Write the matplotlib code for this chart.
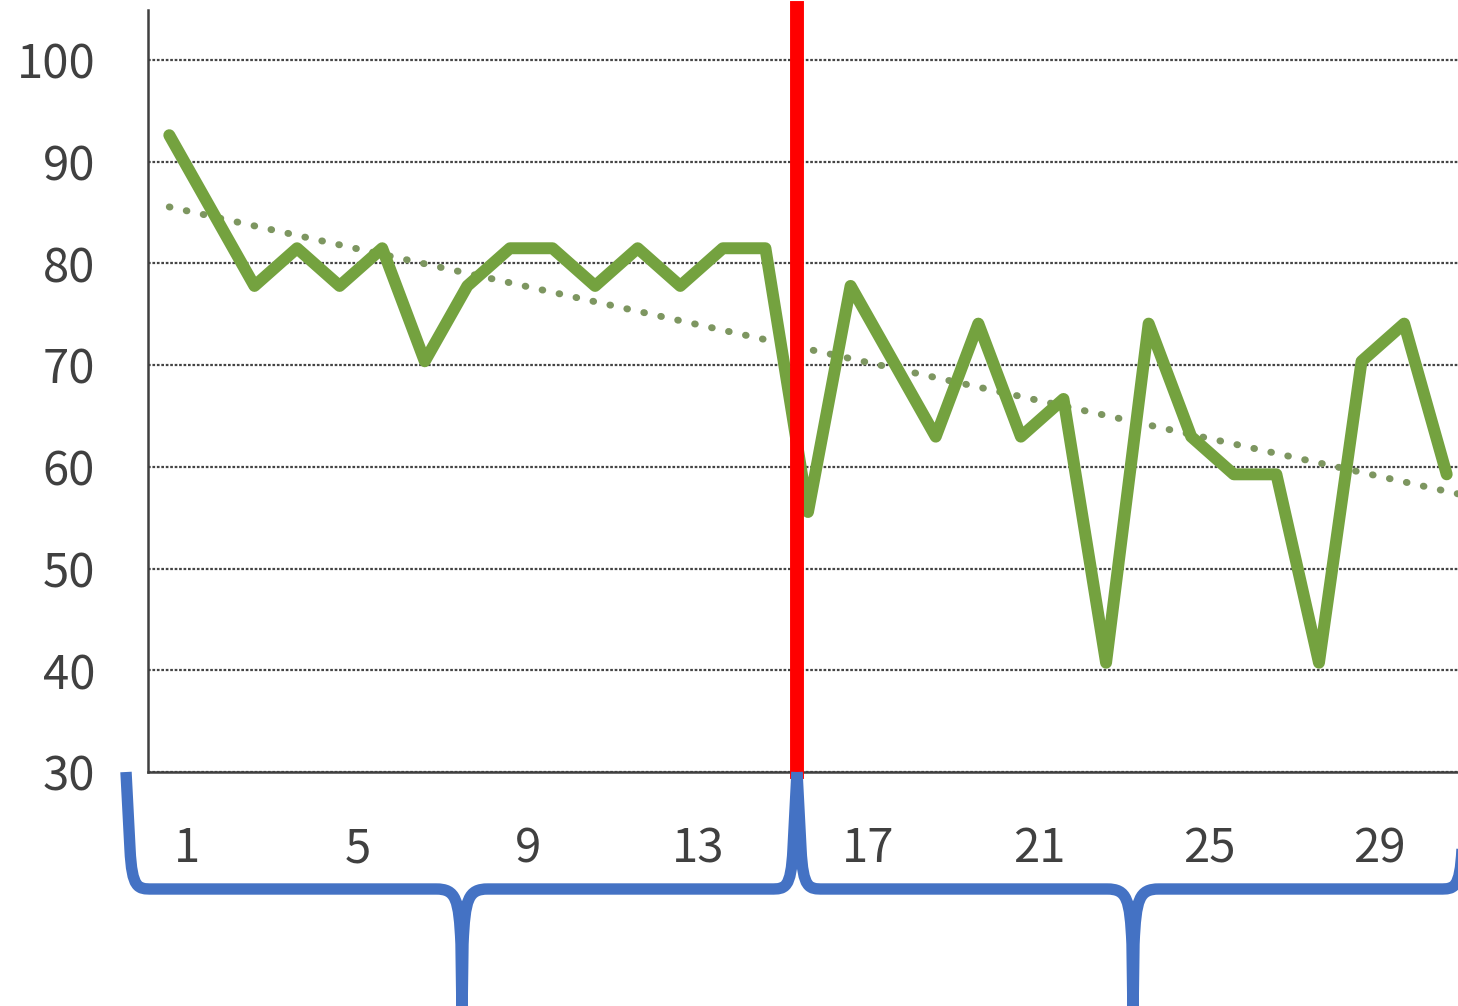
import numpy as np
import matplotlib
matplotlib.use("Agg")
import matplotlib.pyplot as plt
from matplotlib.path import Path
from matplotlib.patches import PathPatch
import matplotlib.transforms as mtransforms

plt.rcParams['font.family'] = ['Noto Sans CJK SC', 'DejaVu Sans']

# scores (out of 27 questions, as percent)
days = np.arange(1, 32)
correct = [25, 23, 21, 22, 21, 22, 19, 21, 22, 22, 21, 22, 21, 22, 22,
           15, 21, 19, 17, 20, 17, 18, 11, 20, 17, 16, 16, 11, 19, 20, 16]
scores = np.array(correct) / 27 * 100
xticks = [1, 5, 9, 13, 17, 21, 25, 29]
yticks = [30, 40, 50, 60, 70, 80, 90, 100]
split_x = 15.74

W, H = 1458, 1006
fig = plt.figure(figsize=(W / 100, H / 100), dpi=100)
ax = fig.add_axes([148 / W, (H - 772) / H, (1468 - 148) / W, (772 - 10) / H])

# trend line
k, b = np.polyfit(days, scores, 1)
tx = np.array([days[0], days[-1] + 0.5])
ax.plot(tx, k * tx + b, color='#7d9660', lw=5, linestyle=(0, (0.1, 2.4)),
        dash_capstyle='round', zorder=2)

ax.plot(days, scores, color='#74a23f', lw=8.6, solid_joinstyle='round',
        solid_capstyle='round', zorder=3)

ax.axvline(split_x, color='#ff0000', lw=10, zorder=4, ymax=1.003, clip_on=False)

ax.set_xlim(0.5, 31.5)
ax.set_ylim(30, 104.9)
ax.set_yticks(yticks)
ax.set_xticks(xticks)
ax.yaxis.grid(True, color='#444444', lw=1.6, linestyle=(0, (1.2, 0.8)))
ax.set_axisbelow(True)
for s in ['top', 'right']:
    ax.spines[s].set_visible(False)
for s in ['left', 'bottom']:
    ax.spines[s].set_color('#404040')
    ax.spines[s].set_linewidth(1.8)
ax.tick_params(axis='both', length=0, labelsize=34, labelcolor='#404040')
ax.tick_params(axis='y', pad=38)
ax.tick_params(axis='x', pad=38)
off = mtransforms.ScaledTranslation(18 / 100, 0, fig.dpi_scale_trans)
for lab in ax.get_xticklabels():
    lab.set_transform(lab.get_transform() + off)

# braces, in pixel coords of the picture
ov = fig.add_axes([0, 0, 1, 1], zorder=10)
ov.set_xlim(0, W)
ov.set_ylim(H, 0)
ov.axis('off')
ov.patch.set_alpha(0)


def brace(x0, xm, x1, ytop, ybar, ybot):
    v = [(x0, ytop), (x0 + 4, ybar - 40),
         (x0 + 6, ybar), (x0 + 12, ybar), (x0 + 26, ybar),
         (xm - 26, ybar),
         (xm - 6, ybar), (xm - 3, ybar + 10), (xm - 1, ybar + 55),
         (xm, ybot),
         (xm + 1, ybar + 55),
         (xm + 3, ybar + 10), (xm + 6, ybar), (xm + 26, ybar),
         (x1 - 26, ybar),
         (x1 - 12, ybar), (x1 - 6, ybar), (x1 - 4, ybar - 40),
         (x1, ytop)]
    c = [Path.MOVETO, Path.LINETO,
         Path.CURVE4, Path.CURVE4, Path.CURVE4,
         Path.LINETO,
         Path.CURVE4, Path.CURVE4, Path.CURVE4,
         Path.LINETO,
         Path.LINETO,
         Path.CURVE4, Path.CURVE4, Path.CURVE4,
         Path.LINETO,
         Path.CURVE4, Path.CURVE4, Path.CURVE4,
         Path.LINETO]
    ov.add_patch(PathPatch(Path(v, c), fill=False, edgecolor='#4472c4', lw=8.2,
                           joinstyle='round', capstyle='butt'))


brace(126, 462, 797, 772, 889, 1015)
brace(797, 1133, 1466, 772, 889, 1015)

fig.savefig('out.png', dpi=100)
